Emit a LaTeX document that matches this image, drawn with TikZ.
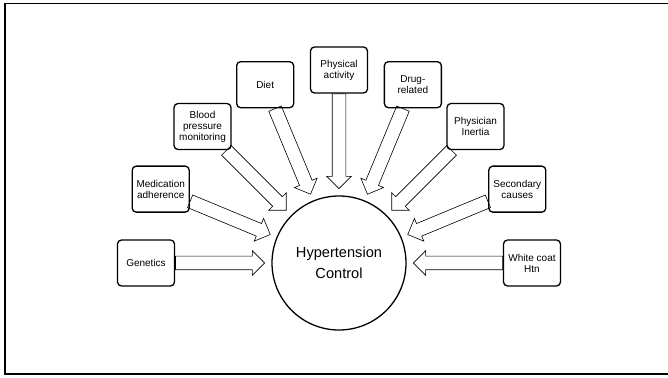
\documentclass[tikz,border=0pt]{standalone}
\usepackage{fontspec}
\setmainfont{Liberation Sans}
\usetikzlibrary{calc,shapes.arrows}

\tikzset{
  factor/.style={draw, line width=1.3pt, rounded corners=4pt, minimum width=57pt, minimum height=46pt, inner sep=1pt, align=center, font=\fontsize{10}{11}\selectfont},
  goal/.style={draw, circle, line width=1.3pt, minimum size=134pt, inner sep=0pt, align=center, font=\fontsize{14.6}{21}\selectfont},
  pusharrow/.style={draw, single arrow, line width=0.6pt, inner sep=6.5pt, single arrow head extend=5.5pt, single arrow tip angle=90, anchor=tail}
}

\begin{document}
\begin{tikzpicture}[x=1pt, y=1pt]
    \clip (0,0) rectangle (668,377);
    \draw[line width=1.6pt] (5,373.5) rectangle (690,3);
    \node[goal] (hc) at (339,114) {Hypertension\\Control};
    \foreach \f/\a/\t in {gen/180/Genetics, med/157.5/{Medication\\adherence}, bpm/135/{Blood\\pressure\\monitoring}, diet/112.5/Diet, phys/90/{Physical\\activity}, drug/67.5/{Drug-\\related}, inert/45/{Physician\\Inertia}, sec/22.5/{Secondary\\causes}, wch/0/{White coat\\Htn}}
      \node[factor] (\f) at ($(hc)+(\a:193)$) {\t};
    \foreach \f in {gen,med,bpm,diet,phys,drug,inert,sec,wch} {
      \path (\f) -- (hc) coordinate[pos=0] (s) coordinate[pos=1] (e);
      \path let \p1=($(e)-(s)$) in node[pusharrow, rotate={atan2(\y1,\x1)}, minimum height={veclen(\x1,\y1)-7}] at (s) {};
    }
\end{tikzpicture}
\end{document}
